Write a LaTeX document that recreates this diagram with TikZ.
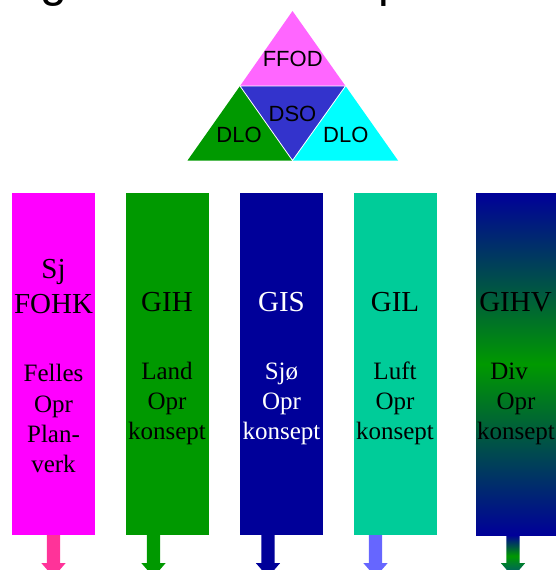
\documentclass[tikz,border=0pt]{standalone}
\usepackage{fontspec}
\setmainfont{Liberation Serif}
\setsansfont{Liberation Sans}
\usetikzlibrary{calc}

\definecolor{ffodpink}{HTML}{FF66FF}
\definecolor{dsoblue}{HTML}{3333CC}
\definecolor{dlogreen}{HTML}{009900}
\definecolor{dlocyan}{HTML}{00FFFF}
\definecolor{colmagenta}{HTML}{FF00FF}
\definecolor{colgreen}{HTML}{009900}
\definecolor{colnavy}{HTML}{000099}
\definecolor{colteal}{HTML}{00CC99}
\definecolor{arrpink}{HTML}{FF3399}
\definecolor{arrlilac}{HTML}{6666FF}
\definecolor{arrdeep}{HTML}{004F80}

\tikzset{
  trilabel/.style={font=\sffamily\fontsize{22}{22}\selectfont, inner sep=0pt, anchor=base},
  colbox/.style={draw=none, inner sep=0pt, outer sep=0pt, minimum width=83pt, minimum height=342pt},
  bigtext/.style={font=\fontsize{29}{29}\selectfont, inner sep=0pt, anchor=base},
  smalltext/.style={font=\fontsize{25}{25}\selectfont, inner sep=0pt, anchor=base},
  titletext/.style={font=\sffamily\fontsize{48}{48}\selectfont, inner sep=0pt, anchor=base west},
}

% block arrow pointing down, centred at x = #1
\newcommand{\downarrowpath}[1]{
  (#1-6.7,535) -- (#1+6.7,535) -- (#1+6.7,563) -- (#1+12.2,563) --
  (#1,577) -- (#1-12.2,563) -- (#1-6.7,563) -- cycle}

\begin{document}
\begin{tikzpicture}[x=1pt,y=-1pt]
\useasboundingbox (0,0) rectangle (556,570);
\clip (0,0) rectangle (556,570);

% heading line, mostly above the frame
\node[titletext] (ttl1) at (40,-4) {g};
\node[titletext] (ttl2) at (378,-4) {p};

% organisation triangle
\fill[ffodpink] (292.5,11) -- (240,86) -- (345.5,86) -- cycle;
\fill[dlogreen] (240,86) -- (187.5,160.5) -- (292.5,160.5) -- cycle;
\fill[dsoblue]  (240,86) -- (345.5,86) -- (292.5,160.5) -- cycle;
\fill[dlocyan]  (345.5,86) -- (292.5,160.5) -- (398,160.5) -- cycle;
\draw[white, line width=0.8pt] (240,86) -- (345.5,86) -- (292.5,160.5) -- cycle;

\node[trilabel] (ffod) at (292.7,66.7) {FFOD};
\node[trilabel] (dso)  at (292.5,121.7) {DSO};
\node[trilabel] (dlo1) at (239,142.7) {DLO};
\node[trilabel] (dlo2) at (345.8,142.7) {DLO};

% columns
\node[colbox, fill=colmagenta] (b1) at (53.5,364) {};
\node[colbox, fill=colgreen]   (b2) at (167.5,364) {};
\node[colbox, fill=colnavy]    (b3) at (281.5,364) {};
\node[colbox, fill=colteal]    (b4) at (395.5,364) {};
\node[colbox, top color=colnavy, bottom color=colnavy, middle color=colgreen] (b5) at (517.5,364) {};

% column 1
\node[bigtext] (c1a) at (53.5,278.5) {Sj};
\node[bigtext] (c1b) at (53.5,313) {FOHK};
\node[smalltext] (c1c) at (53.5,381.7) {Felles};
\node[smalltext] (c1d) at (53.5,412.3) {Opr};
\node[smalltext] (c1e) at (53.5,442.7) {Plan-};
\node[smalltext] (c1f) at (53.5,472.7) {verk};

% column 2
\node[bigtext] (c2a) at (167,311) {GIH};
\node[smalltext] (c2b) at (167,379) {Land};
\node[smalltext] (c2c) at (167,409) {Opr};
\node[smalltext] (c2d) at (167,439) {konsept};

% column 3
\node[bigtext, white] (c3a) at (281.5,311) {GIS};
\node[smalltext, white] (c3b) at (281.5,379) {Sjø};
\node[smalltext, white] (c3c) at (281.5,409) {Opr};
\node[smalltext, white] (c3d) at (281.5,439) {konsept};

% column 4
\node[bigtext] (c4a) at (395,311) {GIL};
\node[smalltext] (c4b) at (395,379) {Luft};
\node[smalltext] (c4c) at (395,409) {Opr};
\node[smalltext] (c4d) at (395,439) {konsept};

% column 5
\node[bigtext] (c5a) at (515.5,311) {GIHV};
\node[smalltext] (c5b) at (509,379) {Div};
\node[smalltext] (c5c) at (516,409) {Opr};
\node[smalltext] (c5d) at (516,439) {konsept};

% arrows under the columns
\fill[arrpink]  \downarrowpath{53.5};
\fill[colgreen] \downarrowpath{153.5};
\fill[colnavy]  \downarrowpath{268};
\fill[arrlilac] \downarrowpath{375.5};
\shade[top color=colnavy, bottom color=arrdeep, middle color=colgreen] \downarrowpath{513};
\end{tikzpicture}
\end{document}
